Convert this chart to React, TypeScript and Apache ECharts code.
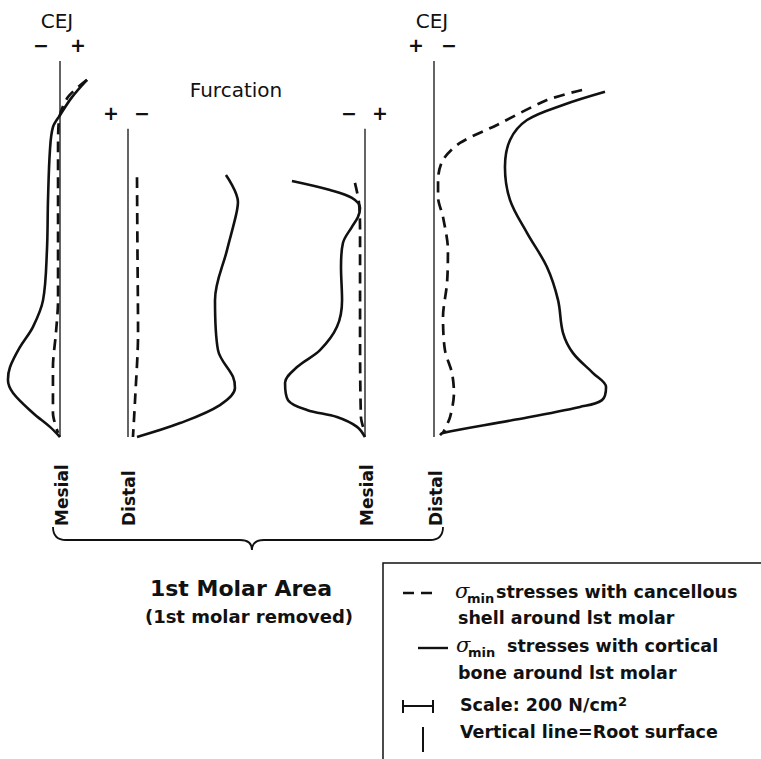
import React, { useEffect, useRef } from "react";
import * as echarts from "echarts";

// Depth along the root: 0 = CEJ, 100 = apex (% of root length)
const depthCEJ = 0;
const depthFurcation = 18;
const depthApex = 100;

// Stress values in N/cm² (σ min, negative = compression), paired with depth
// Mesial surface (left root, CEJ side)
const mesialCEJCortical = [
  [180, 5], [80, 9.6], [0, 14.4], [-47, 17.6], [-67, 23.7], [-80, 37], [-87, 50.3],
  [-113, 63.6], [-180, 70.7], [-267, 76.1], [-333, 81.4], [-347, 84.8], [-313, 88.3],
  [-180, 93.6], [-67, 97.3], [0, 100],
];
const mesialCEJCancellous = [
  [180, 5], [53, 9.6], [-7, 15.7], [-13, 23.7], [-13, 63.6], [-27, 72.3], [-47, 81.4],
  [-47, 93.6], [-13, 98.9],
];
// Distal surface (furcation side of left root)
const distalFurcCortical = [
  [-653, 30.3], [-733, 37.5], [-720, 41], [-660, 50.3], [-580, 63.6], [-600, 76.9],
  [-700, 84], [-713, 87], [-613, 91.5], [-347, 96.3], [-60, 100],
];
const distalFurcCancellous = [
  [-60, 30.9], [-63, 50], [-67, 72.3], [-47, 90.2], [-33, 100],
];
// Mesial surface (furcation side of right root)
const mesialFurcCortical = [
  [-487, 31.9], [-233, 34.3], [-87, 36.4], [-33, 39.1], [-47, 41.5], [-87, 44.1],
  [-147, 48.4], [-160, 54.8], [-153, 63.6], [-187, 70.7], [-300, 76.9], [-453, 81.4],
  [-533, 85.6], [-513, 90.2], [-387, 92.8], [-187, 94.7], [-53, 97.3], [0, 100],
];
const mesialFurcCancellous = [
  [-67, 32.4], [-40, 37.8], [-33, 45.7], [-33, 72.3], [-27, 94.7], [-13, 97.3],
];
// Distal surface (right root, CEJ side)
const distalCEJCortical = [
  [-1140, 8.2], [-860, 11.7], [-620, 15.7], [-507, 21], [-473, 28.2], [-507, 37],
  [-620, 45.7], [-753, 54.8], [-827, 63.6], [-860, 72.3], [-927, 77.7], [-1060, 83],
  [-1147, 86.7], [-1120, 90.2], [-973, 92], [-527, 95.5], [-60, 98.9], [-40, 99.5],
];
const distalCEJCancellous = [
  [-987, 7.7], [-753, 10.4], [-420, 17], [-173, 21.8], [-60, 26.3], [-27, 31.6],
  [-27, 36.2], [-60, 41.5], [-93, 50.3], [-87, 59], [-60, 68.1], [-73, 76.9],
  [-120, 83], [-133, 88.3], [-107, 94.7], [-60, 98.9],
];

const surfaceLabels = ["Mesial", "Distal", "Mesial", "Distal"];
const scaleValue = 200; // N/cm²

const FONT = "'DejaVu Sans'";
const INK = "#111";

const brace = echarts.graphic.extendPath(
  "M53,527 Q53,540 66,540 L240,540 Q252,540 252,550 Q252,540 264,540 L430,540 Q443,540 443,527",
  {}
);
echarts.graphic.registerShape("brace", brace);

export default function App() {
  const ref = useRef<HTMLDivElement>(null);

  useEffect(() => {
    if (!ref.current) return;
    const chart = echarts.init(ref.current, null, { renderer: "svg" });

    const panels = [
      { left: 0, width: 105, min: -400, max: 300, inverse: false, top: depthCEJ, solid: mesialCEJCortical, dashed: mesialCEJCancellous },
      { left: 113, width: 135, min: -800, max: 100, inverse: true, top: depthFurcation, solid: distalFurcCortical, dashed: distalFurcCancellous },
      { left: 275, width: 105, min: -600, max: 100, inverse: false, top: depthFurcation, solid: mesialFurcCortical, dashed: mesialFurcCancellous },
      { left: 419, width: 195, min: -1200, max: 100, inverse: true, top: depthCEJ, solid: distalCEJCortical, dashed: distalCEJCancellous },
    ];

    const grid = panels.map((p) => ({ left: p.left, width: p.width, top: 61, height: 376 }));
    const xAxis = panels.map((p, i) => ({
      type: "value", gridIndex: i, min: p.min, max: p.max, inverse: p.inverse, show: false,
    }));
    const yAxis = panels.map((_, i) => ({
      type: "value", gridIndex: i, min: depthCEJ, max: depthApex, inverse: true, show: false,
    }));

    const series: any[] = [];
    panels.forEach((p, i) => {
      series.push({
        type: "line", name: "Root surface " + surfaceLabels[i], xAxisIndex: i, yAxisIndex: i,
        data: [[0, p.top], [0, depthApex]], symbol: "none", silent: true,
        lineStyle: { color: INK, width: 1.3 },
      });
      series.push({
        type: "line", name: "Cortical " + surfaceLabels[i], xAxisIndex: i, yAxisIndex: i,
        data: p.solid, symbol: "none", smooth: 0.35, clip: false,
        lineStyle: { color: INK, width: 2.6 },
      });
      series.push({
        type: "line", name: "Cancellous " + surfaceLabels[i], xAxisIndex: i, yAxisIndex: i,
        data: p.dashed, symbol: "none", smooth: 0.3, clip: false,
        lineStyle: { color: INK, width: 2.7, type: [11, 7] },
      });
    });

    const txt = (text: string, x: number, y: number, size: number, opts: any = {}) => ({
      type: "text", x, y, rotation: opts.rotation || 0,
      style: {
        text, fill: INK,
        font: `${opts.italic ? "italic " : ""}${opts.weight || "normal"} ${size}px ${opts.family || FONT}`,
        align: opts.align || "center", verticalAlign: opts.va || "middle",
        rich: opts.rich,
      },
    });

    const scalePx = scaleValue * 0.15;
    const legendX = 403;
    const LG = 17.5;

    const graphic: any[] = [
      txt("CEJ", 57, 21, 20),
      txt("−", 41, 45, 19, { weight: "bold" }),
      txt("+", 78, 45, 19, { weight: "bold" }),
      txt("CEJ", 432, 21, 20),
      txt("+", 416, 45, 19, { weight: "bold" }),
      txt("−", 449, 45, 19, { weight: "bold" }),
      txt("Furcation", 236, 90, 20),
      txt("+", 111, 113, 19, { weight: "bold" }),
      txt("−", 142, 113, 19, { weight: "bold" }),
      txt("−", 349, 113, 19, { weight: "bold" }),
      txt("+", 380, 113, 19, { weight: "bold" }),
      txt(surfaceLabels[0], 62, 526, 17, { weight: "bold", rotation: Math.PI / 2, align: "left" }),
      txt(surfaceLabels[1], 129, 526, 17, { weight: "bold", rotation: Math.PI / 2, align: "left" }),
      txt(surfaceLabels[2], 367, 526, 17, { weight: "bold", rotation: Math.PI / 2, align: "left" }),
      txt(surfaceLabels[3], 436, 526, 17, { weight: "bold", rotation: Math.PI / 2, align: "left" }),
      { type: "brace", shape: {}, style: { stroke: INK, fill: null, lineWidth: 1.8 } },
      txt("1st Molar Area", 241, 588, 22, { weight: "bold" }),
      txt("(1st molar removed)", 249, 616, 18, { weight: "bold" }),
      // legend box (top and left edges; the rest runs off the page)
      { type: "polyline", shape: { points: [[383, 800], [383, 563], [800, 563]] }, style: { stroke: INK, fill: null, lineWidth: 1.5 } },
      { type: "line", shape: { x1: legendX, y1: 593, x2: legendX + 31, y2: 593 }, style: { stroke: INK, lineWidth: 2.4, lineDash: [11, 7] } },
      txt("σ", 455, 591, 21, { italic: true, align: "left", family: "'DejaVu Serif'" }),
      txt("min", 467, 598, 13, { weight: "bold", align: "left" }),
      txt("stresses with cancellous", 496, 592, LG, { weight: "bold", align: "left" }),
      txt("shell around lst molar", 458, 618, LG, { weight: "bold", align: "left" }),
      { type: "line", shape: { x1: 418, y1: 648, x2: 448, y2: 648 }, style: { stroke: INK, lineWidth: 2.4 } },
      txt("σ", 456, 645, 21, { italic: true, align: "left", family: "'DejaVu Serif'" }),
      txt("min", 468, 652, 13, { weight: "bold", align: "left" }),
      txt("stresses with cortical", 507, 646, LG, { weight: "bold", align: "left" }),
      txt("bone around lst molar", 458, 673, LG, { weight: "bold", align: "left" }),
      { type: "line", shape: { x1: legendX, y1: 706, x2: legendX + scalePx, y2: 706 }, style: { stroke: INK, lineWidth: 2 } },
      { type: "line", shape: { x1: legendX, y1: 700, x2: legendX, y2: 713 }, style: { stroke: INK, lineWidth: 2 } },
      { type: "line", shape: { x1: legendX + scalePx, y1: 700, x2: legendX + scalePx, y2: 713 }, style: { stroke: INK, lineWidth: 2 } },
      txt(`Scale: ${scaleValue} N/cm{sup|2}`, 460, 705, LG, {
        weight: "bold", align: "left",
        rich: { sup: { font: `bold 13px ${FONT}`, fill: INK, verticalAlign: "top", padding: [0, 0, 8, 0] } },
      }),
      { type: "line", shape: { x1: 423, y1: 727, x2: 423, y2: 752 }, style: { stroke: INK, lineWidth: 2 } },
      txt("Vertical line=Root surface", 460, 732, LG, { weight: "bold", align: "left" }),
    ];

    chart.setOption({
      animation: false,
      backgroundColor: "#fff",
      grid, xAxis, yAxis, series, graphic,
    });

    return () => chart.dispose();
  }, []);

  return (
    <div
      ref={ref}
      style={{ position: "fixed", left: 0, top: 0, width: 761, height: 759, background: "#fff" }}
    />
  );
}
